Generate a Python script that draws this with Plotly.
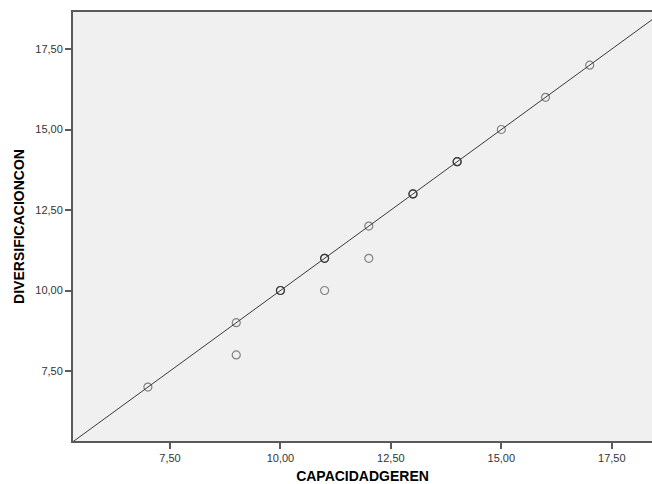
import plotly.graph_objects as go

# Observed data (duplicates reflect overlapping cases, drawn darker)
capacidad = [7, 9, 9, 10, 10, 10, 11, 11, 11, 11, 12, 12, 13, 13, 13, 14, 14, 14, 15, 16, 17]
diversificacion = [7, 9, 8, 10, 10, 10, 11, 11, 11, 10, 12, 11, 13, 13, 13, 14, 14, 14, 15, 16, 17]

tick_vals = [7.5, 10.0, 12.5, 15.0, 17.5]
tick_text = ["7,50", "10,00", "12,50", "15,00", "17,50"]

x_range = [5.305, 18.41]
y_range = [5.326, 18.65]

fig = go.Figure()

fig.add_trace(go.Scatter(
    x=capacidad, y=diversificacion, mode="markers",
    marker=dict(symbol="circle-open", size=8,
                color="rgba(40,40,40,0.55)", line=dict(width=1.2)),
    showlegend=False, hoverinfo="x+y",
))

# reference line y = x across the axis range
fig.add_trace(go.Scatter(
    x=x_range, y=x_range, mode="lines",
    line=dict(color="#3a3a3a", width=1),
    showlegend=False, hoverinfo="skip",
))

axis_font = dict(family="Liberation Sans, Arial, sans-serif", size=11, color="#333333")
title_font = dict(family="Liberation Sans, Arial, sans-serif", size=14, color="#000000")

fig.update_layout(
    width=652, height=484,
    margin=dict(l=73, r=0, t=12, b=43),
    paper_bgcolor="white",
    plot_bgcolor="#F0F0F0",
    xaxis=dict(
        range=x_range, tickvals=tick_vals, ticktext=tick_text,
        showgrid=False, zeroline=False,
        showline=True, linecolor="#5a5a5a", linewidth=2, mirror=True,
        ticks="outside", ticklen=6, tickwidth=2, tickcolor="#5a5a5a",
        tickfont=axis_font,
        title=dict(text="<b>CAPACIDADGEREN</b>", font=title_font, standoff=8),
        automargin=False,
    ),
    yaxis=dict(
        range=y_range, tickvals=tick_vals, ticktext=tick_text,
        showgrid=False, zeroline=False,
        showline=True, linecolor="#5a5a5a", linewidth=2, mirror=False,
        ticks="outside", ticklen=6, tickwidth=2, tickcolor="#5a5a5a",
        tickfont=axis_font,
        title=dict(text="<b>DIVERSIFICACIONCON</b>", font=title_font, standoff=7),
        automargin=False,
    ),
)

fig.write_html(
    "out.html",
    config={"displayModeBar": False},
    post_script="document.body.style.margin='0';document.body.style.overflow='hidden';",
)
